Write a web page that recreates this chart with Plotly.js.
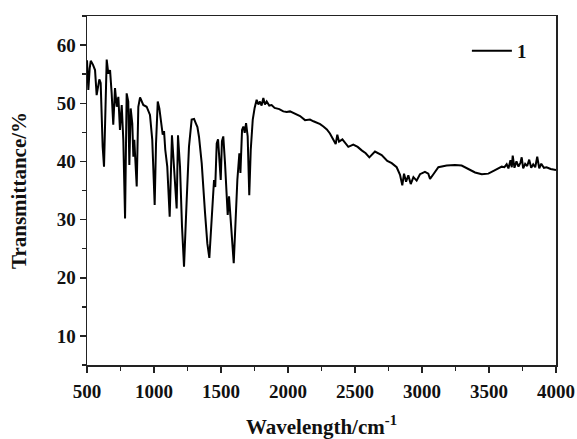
<!DOCTYPE html>
<html>
<head>
<meta charset="utf-8">
<script src="https://cdn.plot.ly/plotly-3.0.1.min.js"></script>
<style>html,body{margin:0;padding:0;background:#fff;}#chart{width:577px;height:439px;}</style>
</head>
<body>
<div id="chart"></div>
<script>
const seriesName = "1";
const wavenumber = [500, 510, 520, 528, 545, 560, 572, 592, 602, 610, 617, 627, 634, 647, 659, 672, 684, 696, 709, 722, 734, 746, 759, 771, 784, 796, 808, 816, 826, 838, 846, 853, 871, 883, 896, 920, 945, 970, 987, 1005, 1015, 1028, 1040, 1052, 1065, 1075, 1084, 1099, 1117, 1134, 1152, 1169, 1179, 1194, 1209, 1224, 1244, 1261, 1281, 1299, 1313, 1324, 1336, 1356, 1381, 1398, 1413, 1425, 1438, 1448, 1457, 1468, 1478, 1487, 1498, 1507, 1517, 1530, 1543, 1550, 1560, 1572, 1582, 1595, 1607, 1622, 1637, 1645, 1657, 1667, 1677, 1687, 1699, 1711, 1722, 1737, 1751, 1766, 1779, 1791, 1803, 1816, 1828, 1841, 1860, 1878, 1900, 1935, 1965, 1990, 2015, 2040, 2065, 2090, 2127, 2164, 2190, 2214, 2240, 2264, 2290, 2313, 2338, 2356, 2368, 2381, 2406, 2450, 2487, 2520, 2550, 2580, 2607, 2649, 2699, 2741, 2774, 2811, 2836, 2853, 2866, 2881, 2898, 2916, 2936, 2960, 2985, 3022, 3047, 3060, 3085, 3122, 3184, 3246, 3296, 3346, 3396, 3446, 3495, 3545, 3595, 3615, 3632, 3645, 3660, 3670, 3677, 3690, 3705, 3720, 3735, 3744, 3755, 3770, 3785, 3800, 3815, 3830, 3845, 3860, 3875, 3890, 3910, 3930, 3960, 4000];
const transmittance = [57.4, 52.3, 56.0, 57.3, 56.6, 55.7, 51.4, 54.1, 53.5, 47.5, 42.5, 39.1, 46.6, 57.5, 55.1, 55.7, 51.7, 46.3, 52.6, 49.4, 51.1, 45.4, 49.7, 43.7, 30.2, 51.7, 50.3, 39.4, 49.1, 46.5, 40.8, 43.7, 35.7, 49.4, 51.0, 49.7, 49.4, 48.0, 43.7, 32.5, 43.0, 50.3, 49.1, 47.2, 44.6, 45.2, 42.0, 39.1, 30.5, 44.5, 36.8, 31.9, 44.5, 39.1, 28.8, 21.9, 33.4, 42.5, 47.2, 47.3, 46.5, 45.9, 44.2, 39.7, 31.1, 25.9, 23.4, 27.6, 33.4, 36.8, 35.6, 43.1, 43.8, 40.3, 36.8, 43.5, 44.3, 39.7, 35.1, 30.8, 34.0, 30.0, 25.3, 22.5, 28.8, 36.8, 41.4, 38.0, 45.4, 46.0, 44.9, 46.6, 44.3, 34.2, 42.0, 47.2, 49.2, 50.6, 49.8, 50.3, 49.6, 50.9, 49.8, 50.3, 49.6, 49.7, 49.2, 49.0, 48.6, 48.5, 48.6, 48.3, 48.1, 47.8, 47.1, 47.2, 46.9, 46.7, 46.4, 46.0, 45.5, 44.8, 43.7, 43.0, 44.6, 43.4, 43.8, 42.5, 42.9, 42.5, 41.9, 41.4, 40.7, 41.7, 41.1, 40.1, 39.7, 39.0, 37.7, 35.9, 37.9, 36.5, 37.6, 36.1, 37.3, 36.7, 37.8, 38.2, 37.9, 37.0, 37.8, 39.0, 39.3, 39.4, 39.3, 38.7, 38.1, 37.8, 37.9, 38.5, 39.1, 39.0, 39.5, 38.8, 40.2, 39.0, 41.0, 38.9, 40.0, 39.1, 39.8, 40.7, 38.8, 39.6, 39.2, 40.3, 38.9, 39.5, 39.0, 40.8, 38.8, 39.6, 38.9, 39.0, 38.7, 38.5];
const xTickVals = [500, 1000, 1500, 2000, 2500, 3000, 3500, 4000];
const yTickVals = [10, 20, 30, 40, 50, 60];
const xTitle = "Wavelength/cm<sup>-1</sup>";
const yTitle = "Transmittance/%";

const FONT = "Liberation Serif, Times New Roman, serif";
const axisCommon = {
  showgrid: false, zeroline: false, showline: true, mirror: true,
  linecolor: "#222", linewidth: 1.5,
  ticks: "outside", ticklen: 6, tickwidth: 1.5, tickcolor: "#222",
  tickfont: {family: FONT, size: 19, weight: "bold", color: "#111"}
};
const trace = {
  x: wavenumber, y: transmittance, type: "scatter", mode: "lines",
  name: seriesName, line: {color: "#000", width: 2}
};
const layout = {
  width: 577, height: 439,
  margin: {l: 87, r: 21, t: 16, b: 74},
  paper_bgcolor: "#fff", plot_bgcolor: "#fff",
  showlegend: true,
  legend: {x: 0.81, y: 0.9, xanchor: "left", yanchor: "middle", bgcolor: "rgba(0,0,0,0)",
    font: {family: FONT, size: 19, weight: "bold", color: "#111"}, itemwidth: 40},
  xaxis: Object.assign({}, axisCommon, {
    range: [500, 4000], tickvals: xTickVals, ticklabelstandoff: 3,
    minor: {ticks: "outside", ticklen: 4, dtick: 250, tick0: 500, tickwidth: 1.5, tickcolor: "#222"},
    title: {text: xTitle, standoff: 22, font: {family: FONT, size: 21, weight: "bold", color: "#111"}}
  }),
  yaxis: Object.assign({}, axisCommon, {
    range: [5, 65], tickvals: yTickVals,
    minor: {ticks: "outside", ticklen: 4, dtick: 5, tick0: 5, tickwidth: 1.5, tickcolor: "#222"},
    title: {text: yTitle, standoff: 24, font: {family: FONT, size: 21, weight: "bold", color: "#111"}}
  })
};
Plotly.newPlot("chart", [trace], layout, {displayModeBar: false, staticPlot: true});
</script>
</body>
</html>
